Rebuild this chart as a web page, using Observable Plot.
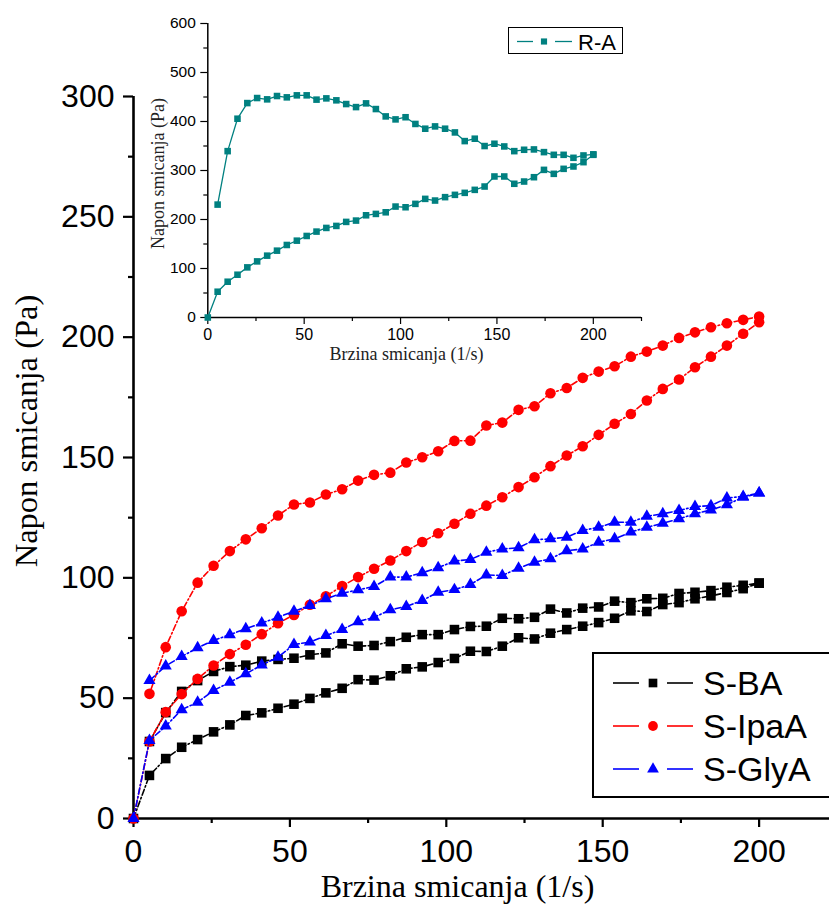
<!DOCTYPE html>
<html><head><meta charset="utf-8">
<script src="https://cdn.jsdelivr.net/npm/d3@7"></script>
<script src="https://cdn.jsdelivr.net/npm/@observablehq/plot@0.6"></script>
<style>
body{margin:0;background:#fff;overflow:hidden}
#wrap{position:relative;width:829px;height:906px;overflow:hidden;background:#fff}
#wrap svg{position:absolute;left:0;top:0}
.leg{position:absolute;background:#fff;box-sizing:border-box;font-family:"Liberation Sans",Arial,sans-serif;color:#000}
</style></head><body><div id="wrap"></div>
<script>
// Shear rate (1/s) sampling points
const shearRate = [0,5.1,10.3,15.4,20.5,25.6,30.8,35.9,41,46.2,51.3,56.4,61.5,66.7,71.8,76.9,82.1,87.2,92.3,97.4,102.6,107.7,112.8,117.9,123.1,128.2,133.3,138.5,143.6,148.7,153.8,159,164.1,169.2,174.4,179.5,184.6,189.7,194.9,200];

// Main chart: lower branch (from 0 to 200) and upper branch (values at 5.1 ... 200)
const sbaLower = [0,17.9,24.9,29.6,32.8,36.0,38.9,42.8,43.9,45.8,47.5,49.9,52.2,54.1,57.7,57.5,59.3,62.2,63.0,64.8,66.5,69.5,69.4,71.6,75.1,74.6,77.0,78.5,79.9,81.4,83.2,86.3,86.0,88.9,89.7,91.3,92.5,93.9,95.5,97.8];
const sbaUpper = [32,44,52.8,57.3,61.1,63.1,63.7,65.4,66.1,66.6,68.0,68.8,72.6,71.6,71.9,73.5,75.3,76.4,76.4,78.5,79.8,79.9,83.2,83.0,83.6,87.0,85.4,87.4,87.9,90.3,89.7,91.3,91.5,93.5,94.0,94.7,96.1,96.9,97.8];
const ipaLower = [0,32.0,44.2,51.7,58.0,63.6,68.3,72.2,76.6,81.1,84.6,88.8,92.3,96.6,100.3,103.8,107.2,111.1,114.9,118.5,122.5,126.6,130.0,133.5,137.7,141.8,146.4,150.8,154.7,159.4,164.0,168.1,173.7,178.5,182.4,187.5,191.9,196.5,201.4,206.2];
const ipaUpper = [51.8,71.2,86.1,98.0,105.0,111.1,116.0,120.6,125.9,130.5,131.3,134.6,136.8,140.4,142.8,143.7,147.9,150.1,152.6,156.9,157.0,163.3,164.5,169.8,171.3,176.7,178.9,183.1,185.7,187.9,191.9,194.0,196.5,199.7,202.0,204.1,205.8,207.2,208.6];
const glyLower = [0,32.4,38.4,45.2,48.3,53.2,56.6,60.1,63.8,67.0,72.3,73.3,76.0,78.5,81.8,83.6,86.7,88.1,90.6,94.0,95.1,97.2,101.2,101.0,104.0,106.5,107.9,111.3,112.0,114.8,116.2,119.0,121.0,122.7,124.5,126.6,128.2,130.4,133.5,135.2];
const glyUpper = [57.3,63.4,67.3,70.9,74.0,76.4,78.8,81.2,83.6,86.1,88.5,91.3,93.6,95.0,96.4,100.3,100.3,102.1,104.2,107.0,107.6,110.6,112.0,112.5,115.8,116.2,116.9,119.7,121.0,123.1,123.1,125.6,126.6,128.0,129.6,130.0,133.2,133.8,135.2];

// Inset (R-A)
const raLower = [0,52.6,73,87.3,102.3,114.5,126.2,136.4,148,156.8,166.4,175.3,182.8,186.9,195.1,197.8,208.6,211.4,214.7,226.4,225,231.9,242.1,238.7,245.6,250.3,254.4,260.5,267.3,287.8,287.8,272.9,277.5,286.3,301.3,293.2,303.4,308.2,317,332];
const raUpper = [230.4,339.5,405.7,437.6,447.9,445.2,452,449.3,453.4,453.4,444.6,447.2,443.2,435.6,429.4,437,425.4,410.4,404.3,408.7,395,385.3,390,385.3,377.7,360,364.9,349.9,354.6,349.1,339.5,342.3,343,337.5,332,332,325.9,330.7,333];

const seriesNames = ["S-BA","S-IpaA","S-GlyA"];
const seriesColors = ["#000000","#ff0000","#0000ff"];
const seriesSymbols = ["square","circle","triangle"];
const insetName = "R-A";
const insetColor = "#008080";

const mainXTicks = [0,50,100,150,200];
const mainXMinor = [25,75,125,175];
const mainYTicks = [0,50,100,150,200,250,300];
const mainYMinor = [25,75,125,175,225,275];
const insetXTicks = [0,50,100,150,200];
const insetXMinor = [25,75,125,175,225];
const insetYTicks = [0,100,200,300,400,500,600];
const insetYMinor = [50,150,250,350,450,550];

const xLabel = "Brzina smicanja (1/s)";
const yLabel = "Napon smicanja (Pa)";

function loop(name, lower, upper){
  const rows = lower.map((v,i)=>({x: shearRate[i], y: v, s: name}));
  for (let i = upper.length-1; i >= 0; i--) rows.push({x: shearRate[i+1], y: upper[i], s: name});
  return rows;
}
const mainData = [loop("S-BA", sbaLower, sbaUpper), loop("S-IpaA", ipaLower, ipaUpper), loop("S-GlyA", glyLower, glyUpper)];
const insetData = loop(insetName, raLower, raUpper);

const SANS = "'Liberation Sans', Arial, sans-serif";
const SERIF = "'Liberation Serif', 'Times New Roman', serif";
const symR = {square: 5.4, circle: 5.3, triangle: 4.5};

const seriesMarks = [];
mainData.forEach((rows, k) => {
  seriesMarks.push(Plot.line(rows, {x:"x", y:"y", stroke: seriesColors[k], strokeWidth: 1.6, strokeDasharray: "6,2.5,1.5,2.5"}));
  seriesMarks.push(Plot.dot(rows, {x:"x", y:"y", fill: seriesColors[k], stroke: "none", symbol: seriesSymbols[k], r: symR[seriesSymbols[k]]}));
});

const main = Plot.plot({
  width: 829, height: 906,
  marginLeft: 133, marginRight: 0, marginTop: 96, marginBottom: 88,
  x: {domain: [0, 222.5]},
  y: {domain: [0, 300]},
  style: {fontFamily: SANS, background: "transparent", color: "#000", overflow: "visible"},
  marks: [
    Plot.axisX({ticks: mainXTicks, tickSize: 9, tickPadding: 12, fontSize: 32, strokeWidth: 2.2, label: null}),
    Plot.axisX({ticks: mainXMinor, tickSize: 5, tickFormat: () => "", strokeWidth: 2.2, label: null}),
    Plot.axisY({ticks: mainYTicks, tickSize: 10, tickPadding: 9, fontSize: 32, strokeWidth: 2.2, label: null}),
    Plot.axisY({ticks: mainYMinor, tickSize: 5, tickFormat: () => "", strokeWidth: 2.2, label: null}),
    Plot.ruleY([0], {strokeWidth: 2.6}),
    Plot.ruleX([0], {strokeWidth: 2.6}),
    ...seriesMarks
  ]
});

const inset = Plot.plot({
  width: 829, height: 906,
  marginLeft: 207.3, marginRight: 188, marginTop: 23, marginBottom: 589,
  x: {domain: [0, 225]},
  y: {domain: [0, 600]},
  style: {fontFamily: SANS, background: "transparent", color: "#000", overflow: "visible"},
  marks: [
    Plot.axisX({ticks: insetXTicks, tickSize: 7, tickPadding: 4, fontSize: 16, strokeWidth: 1.2, label: null}),
    Plot.axisX({ticks: insetXMinor, tickSize: 4, tickFormat: () => "", strokeWidth: 1.2, label: null}),
    Plot.axisY({ticks: insetYTicks, tickSize: 7, tickPadding: 5, fontSize: 15.5, strokeWidth: 1.2, label: null}),
    Plot.axisY({ticks: insetYMinor, tickSize: 4, tickFormat: () => "", strokeWidth: 1.2, label: null}),
    Plot.ruleY([0], {strokeWidth: 1.5}),
    Plot.ruleX([0], {strokeWidth: 1.5}),
    Plot.line(insetData, {x:"x", y:"y", stroke: insetColor, strokeWidth: 1.3}),
    Plot.dot(insetData, {x:"x", y:"y", fill: insetColor, stroke: "none", symbol: "square", r: 3.7})
  ]
});

const wrap = document.getElementById("wrap");
wrap.appendChild(main);
wrap.appendChild(inset);

// axis titles
const ms = d3.select(main);
ms.append("text").attr("x", 457.5).attr("y", 897).attr("text-anchor","middle")
  .attr("font-family", SERIF).attr("font-size", 32).attr("fill","#000").text(xLabel);
ms.append("text").attr("transform","translate(37,431) rotate(-90)").attr("text-anchor","middle")
  .attr("font-family", SERIF).attr("font-size", 32.5).attr("fill","#000").text(yLabel);
const is = d3.select(inset);
is.append("text").attr("x", 406.5).attr("y", 360).attr("text-anchor","middle")
  .attr("font-family", SERIF).attr("font-size", 18).attr("fill","#222").text(xLabel);
is.append("text").attr("transform","translate(164,173.5) rotate(-90)").attr("text-anchor","middle")
  .attr("font-family", SERIF).attr("font-size", 18).attr("fill","#222").text(yLabel);

// legends
function symbolPath(sym, size){
  const map = {square: d3.symbolSquare, circle: d3.symbolCircle, triangle: d3.symbolTriangle};
  return d3.symbol(map[sym], size)();
}
const leg = document.createElement("div");
leg.className = "leg";
leg.style.cssText = "left:592px;top:652px;width:260px;height:146px;border:2px solid #000;";
let html = '<svg width="260" height="146" style="position:absolute;left:-2px;top:-2px">';
seriesNames.forEach((n,k) => {
  const cy = 31 + k*43;
  const c = seriesColors[k];
  html += `<line x1="21" x2="47" y1="${cy}" y2="${cy}" stroke="${c}" stroke-width="1.6"/>`;
  html += `<line x1="75" x2="101" y1="${cy}" y2="${cy}" stroke="${c}" stroke-width="1.6"/>`;
  html += `<path transform="translate(61,${cy})" d="${symbolPath(seriesSymbols[k], k===2?60:75)}" fill="${c}"/>`;
  html += `<text x="111" y="${cy+12}" font-family="${SANS}" font-size="34" fill="#000">${n}</text>`;
});
html += '</svg>';
leg.innerHTML = html;
wrap.appendChild(leg);

const leg2 = document.createElement("div");
leg2.className = "leg";
leg2.style.cssText = "left:508px;top:27px;width:115px;height:27px;border:1.5px solid #000;";
leg2.innerHTML = `<svg width="115" height="27" style="position:absolute;left:-1.5px;top:-1.5px">
<line x1="9" x2="25" y1="14.5" y2="14.5" stroke="${insetColor}" stroke-width="1.3"/>
<line x1="47" x2="64" y1="14.5" y2="14.5" stroke="${insetColor}" stroke-width="1.3"/>
<path transform="translate(36,14.5)" d="${symbolPath('square', 38)}" fill="${insetColor}"/>
<text x="70" y="22.5" font-family="${SANS}" font-size="22" fill="#000">${insetName}</text></svg>`;
wrap.appendChild(leg2);
</script></body></html>
